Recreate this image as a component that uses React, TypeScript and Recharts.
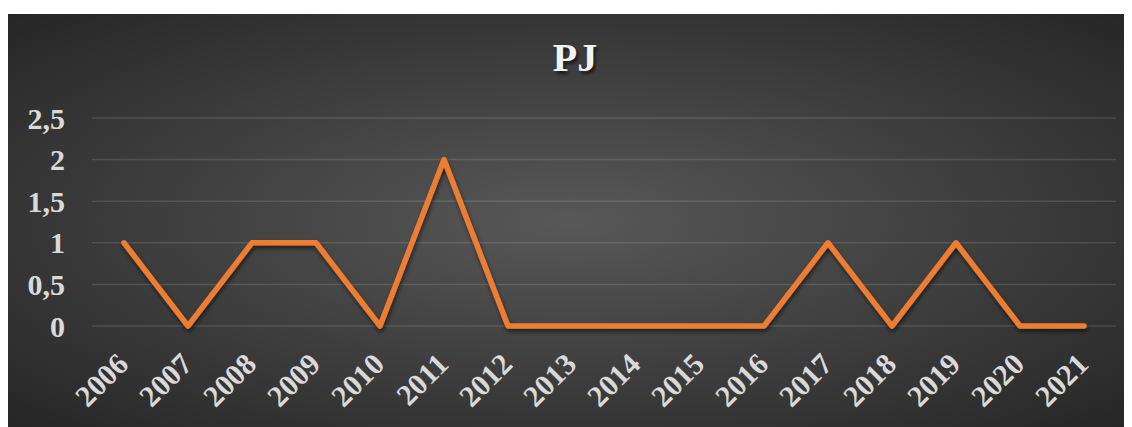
import React from 'react';
import { LineChart, Line, XAxis, YAxis, CartesianGrid } from 'recharts';

const years = ['2006', '2007', '2008', '2009', '2010', '2011', '2012', '2013', '2014', '2015', '2016', '2017', '2018', '2019', '2020', '2021'];
const pjValues = [1, 0, 1, 1, 0, 2, 0, 0, 0, 0, 0, 1, 0, 1, 0, 0];
const yTicks = [0, 0.5, 1, 1.5, 2, 2.5];
const chartTitle = 'PJ';

const data = years.map((y, i) => ({ year: y, pj: pjValues[i] }));

const FONT = '"Liberation Serif", "Times New Roman", serif';

const YTick = (props: any) => {
  const { y, payload } = props;
  return (
    <text x={57} y={y} dy="0.35em" textAnchor="end" fill="#d9d9d9" fontFamily={FONT} fontWeight="bold" fontSize={30}>
      {String(payload.value).replace('.', ',')}
    </text>
  );
};

const XTick = (props: any) => {
  const { x, y, payload } = props;
  const ax = x + 6;
  const ay = y + 32;
  return (
    <text x={ax} y={ay} textAnchor="end" transform={`rotate(-45 ${ax} ${ay})`} fill="#d9d9d9" fontFamily={FONT} fontWeight="bold" fontSize={30}>
      {payload.value}
    </text>
  );
};

export default function App() {
  return (
    <div style={{ width: 1124, height: 419, paddingTop: 6, boxSizing: 'border-box' }}>
      <div
        style={{
          position: 'relative',
          width: 1124,
          height: 413,
          background: 'radial-gradient(ellipse at 50% 50%, #585858 0%, #262626 100%)',
        }}
      >
        <div
          style={{
            position: 'absolute',
            left: 567,
            top: 24,
            transform: 'translateX(-50%)',
            fontFamily: FONT,
            fontWeight: 'bold',
            fontSize: 40,
            lineHeight: 1,
            color: '#f2f2f2',
            textShadow: '2px 3px 3px rgba(0,0,0,0.6)',
            whiteSpace: 'nowrap',
          }}
        >
          {chartTitle}
        </div>
        <LineChart width={1124} height={413} data={data} margin={{ top: 104, right: 16, bottom: 11, left: 0 }}>
          <defs>
            <filter id="lineShadow" x="-10%" y="-10%" width="120%" height="130%">
              <feDropShadow dx="1" dy="3" stdDeviation="2" floodColor="#000" floodOpacity="0.55" />
            </filter>
          </defs>
          <CartesianGrid vertical={false} stroke="rgba(255,255,255,0.12)" strokeWidth={1.5} />
          <XAxis dataKey="year" axisLine={false} tickLine={false} height={90} interval={0} padding={{ left: 32, right: 32 }} tick={<XTick />} />
          <YAxis width={84} domain={[0, 2.5]} ticks={yTicks} axisLine={false} tickLine={false} tick={<YTick />} />
          <Line
            type="linear"
            dataKey="pj"
            stroke="#ED7D31"
            strokeWidth={5.5}
            strokeLinejoin="round"
            strokeLinecap="round"
            dot={false}
            activeDot={false}
            filter="url(#lineShadow)"
            isAnimationActive={false}
          />
        </LineChart>
      </div>
    </div>
  );
}
